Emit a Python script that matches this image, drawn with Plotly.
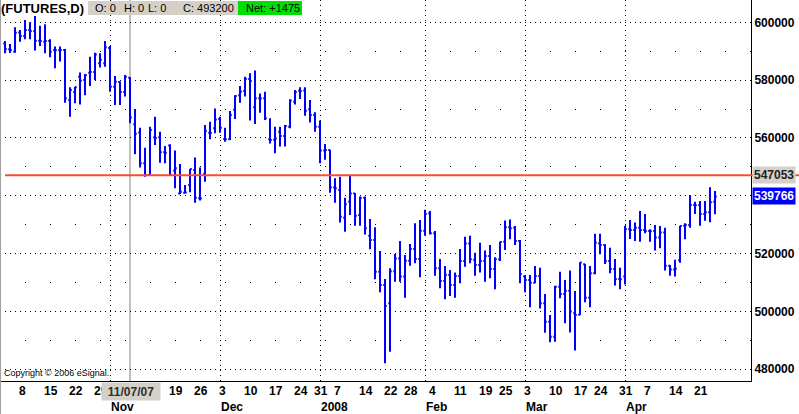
import plotly.graph_objects as go
import pandas as pd

# ---------------- data ----------------
holidays = ["2007-12-25", "2008-01-01", "2008-01-21", "2008-02-18", "2008-03-21"]
dates = [d for d in pd.bdate_range("2007-10-03", "2008-04-25")
         if d.strftime("%Y-%m-%d") not in holidays]

opens = [
    592700, 590700, 589800, 596500, 595300, 597300, 597000, 593600, 593300, 593500,
    590400, 590300, 590400, 573100, 575900, 581200, 580000, 582500, 582800, 585800,
    585800,
    591100, 577700, 579300, 575900, 580800, 564700, 561900, 551200, 547200, 560200,
    560200, 555000, 557400, 548700, 540800, 541000, 543700, 548900, 539100, 547500,
    561800, 563300,
    566500, 559600, 559500, 569700, 574800, 576200, 580400, 570600, 573700, 573700,
    559500, 559400, 562100, 560700, 563900, 572500, 576300, 576400, 569900, 567900,
    563900, 555600, 555800, 542800, 542000, 532400, 537900, 540800, 533300, 539300,
    526100, 524700, 513700, 509100, 502800, 513900, 518300, 512000, 517500, 521600,
    518100,
    527900, 533900, 527000, 514900, 510500, 512600, 509100, 512200, 517400, 523500,
    517800, 516000, 517400, 519100, 514600, 518000, 524100, 529100, 528900, 524300,
    512000, 510800, 509900, 512200, 502800, 496400, 491200, 508500, 506000, 507100,
    499300, 498800, 516300, 504700, 513200, 523500, 522900, 517400, 514600, 511200,
    512000, 528400, 528100, 528900, 528100, 527800, 527800, 525500, 527300, 515800,
    514500, 517700, 529600, 529900, 536800, 536800, 533700, 534300, 537900,
]
highs = [
    593500, 592500, 598300, 597300, 600800, 600000, 602200, 598800, 599300, 594100,
    591600, 591600, 590800, 577500, 577700, 582600, 582100, 588100, 589500, 589300,
    593500,
    591800, 581400, 579500, 581800, 581100, 570000, 563500, 556600, 563900, 567300,
    562100, 557200, 557800, 555600, 551000, 543700, 549200, 553200, 549800, 564500,
    565600, 570200,
    567300, 563500, 569300, 574800, 578000, 581200, 582400, 583300, 575400, 576000,
    566800, 563900, 563900, 564500, 573400, 576600, 577500, 577500, 573100, 568900,
    566000, 557900, 555900, 546000, 546600, 539300, 546800, 540900, 539700, 539700,
    531900, 529100, 520900, 511200, 514900, 519800, 524300, 519500, 523300, 530500,
    531600,
    535100, 534700, 527800, 518100, 515700, 514300, 513400, 521600, 525800, 526100,
    520300, 523700, 521000, 522900, 518700, 524100, 531400, 531800, 529500, 524700,
    512600, 512600, 515700, 515100, 506000, 498700, 508800, 513700, 510800, 514100,
    507000, 517000, 516400, 515700, 526800, 526800, 523200, 522000, 518100, 515100,
    529500, 531600, 530700, 534700, 533700, 528400, 529900, 529500, 528900, 516000,
    517800, 529600, 530500, 540200, 537900, 538200, 538200, 542900, 541600,
]
lows = [
    589300, 589400, 589500, 593300, 594100, 594100, 590200, 591800, 589300, 587900,
    584100, 586400, 572200, 567300, 572000, 571600, 574800, 578000, 580000, 584400,
    584600,
    576000, 571400, 571400, 574300, 565100, 554300, 549800, 546600, 546900, 557500,
    551400, 551200, 546900, 542600, 540600, 540800, 541200, 537600, 538300, 544800,
    559500, 561600,
    561800, 558700, 559300, 566500, 572200, 574300, 566000, 564800, 568700, 566200,
    558100, 554700, 557000, 557000, 563300, 571600, 573500, 567700, 565300, 562100,
    551200, 552400, 541000, 537600, 530700, 527500, 533300, 529600, 529600, 526600,
    521500, 511100, 506600, 482000, 486000, 510200, 510200, 504700, 515800, 516600,
    511800,
    526100, 526600, 512300, 508000, 504200, 505300, 504700, 509700, 515400, 516600,
    512300, 513400, 510200, 511400, 507600, 517400, 521200, 524900, 522900, 509700,
    506600, 501400, 509700, 501000, 492600, 489300, 489500, 504500, 495900, 492700,
    486400, 498700, 503100, 501400, 512800, 519700, 516400, 513200, 508900, 507600,
    509300, 525000, 524300, 524100, 527000, 524100, 521000, 521800, 514100, 512300,
    512000, 516800, 524900, 528900, 533700, 529600, 531300, 530800, 533600,
]
closes = [
    590800, 590400, 596400, 595300, 597300, 597000, 593600, 593500, 593500, 589800,
    590300, 590400, 573700, 576600, 577500, 579800, 581700, 582800, 588900, 587000,
    591400,
    577700, 579400, 575900, 581200, 567100, 561400, 551200, 547200, 562700, 560000,
    555000, 554900, 547200, 549500, 541400, 541100, 549200, 539300, 539000, 562400,
    561700, 566400,
    563500, 559500, 567900, 574500, 576000, 580400, 579700, 573700, 573600, 566800,
    559300, 559800, 560700, 564100, 572900, 575900, 576200, 569400, 567900, 563900,
    555600, 555800, 542900, 542600, 532700, 537000, 540800, 533100, 539300, 528700,
    524700, 513700, 509100, 501800, 513900, 518300, 512000, 517500, 521600, 518100,
    527900,
    533700, 527000, 514900, 510500, 512600, 509100, 512200, 517400, 523500, 518000,
    516000, 517400, 519100, 514600, 518000, 524000, 529100, 528700, 524300, 512900,
    510800, 509900, 512200, 502800, 496400, 491200, 508500, 506000, 507100, 499900,
    498700, 516900, 504700, 513200, 523700, 522900, 517400, 514600, 511200, 511100,
    528400, 528100, 528900, 528100, 527800, 527700, 525500, 527300, 515800, 514500,
    514700, 529500, 529900, 536800, 536700, 533700, 534300, 537700, 539766,
]

y_ticks = [480000, 500000, 520000, 540000, 560000, 580000, 600000]
y_ticktext = ["480000", "500000", "520000", "", "560000", "580000", "600000"]

day_labels = [
    ("2007-10-08", "8"), ("2007-10-15", "15"), ("2007-10-22", "22"), ("2007-10-29", "29"),
    ("2007-11-19", "19"), ("2007-11-26", "26"), ("2007-12-03", "3"), ("2007-12-10", "10"),
    ("2007-12-17", "17"), ("2007-12-24", "24"), ("2007-12-31", "31"), ("2008-01-07", "7"),
    ("2008-01-14", "14"), ("2008-01-22", "22"), ("2008-01-28", "28"), ("2008-02-04", "4"),
    ("2008-02-11", "11"), ("2008-02-19", "19"), ("2008-02-25", "25"), ("2008-03-03", "3"),
    ("2008-03-10", "10"), ("2008-03-17", "17"), ("2008-03-24", "24"), ("2008-03-31", "31"),
    ("2008-04-07", "7"), ("2008-04-14", "14"), ("2008-04-21", "21"),
]
month_labels = [
    ("2007-11-01", "Nov"), ("2007-12-03", "Dec"), ("2008-01-02", "2008"),
    ("2008-02-01", "Feb"), ("2008-03-03", "Mar"), ("2008-04-01", "Apr"),
]
cursor_date = "2007-11-07"
cursor_text = "11/07/07"
ref_level = 547053
last_level = 539766
header_title = "(FUTURES,D)"
header_fields = ["O: 0", "H: 0", "L: 0", "C: 493200"]
header_net = "Net: +1475"
copyright_text = "Copyright © 2006 eSignal."

# ---------------- figure ----------------
pos = {d.strftime("%Y-%m-%d"): i for i, d in enumerate(dates)}
xs = list(range(len(dates)))

W, H = 799, 414
PL, PR, PT, PB = 0, 48, 0, 33
pw, ph = W - PL - PR, H - PT - PB


def px(xp):
    return (xp - PL) / pw


def py(yp):
    return 1 - (yp - PT) / ph


BLUE = "#0000FF"
FONT = "Liberation Sans"

fig = go.Figure()
fig.add_trace(go.Ohlc(
    x=xs, open=opens, high=highs, low=lows, close=closes,
    increasing=dict(line=dict(color=BLUE, width=2)),
    decreasing=dict(line=dict(color=BLUE, width=2)),
    tickwidth=0.35, hoverinfo="skip", showlegend=False,
))

month_idx = [pos[d] for d, _ in month_labels]

fig.update_layout(
    template="none",
    width=W, height=H, autosize=False,
    margin=dict(l=PL, r=PR, t=PT, b=PB, pad=0),
    paper_bgcolor="white", plot_bgcolor="white",
    showlegend=False, hovermode=False,
    font=dict(family=FONT, size=12, color="black"),
    xaxis=dict(
        range=[-1, 149.2], rangeslider=dict(visible=False), automargin=False,
        tickmode="array", tickvals=month_idx, showticklabels=False, ticks="",
        showgrid=True, gridcolor="black", gridwidth=1, griddash="1px,4px",
        showline=True, linecolor="black", linewidth=1, zeroline=False,
        fixedrange=True,
    ),
    yaxis=dict(
        range=[475882, 607716], side="right", automargin=False,
        tickmode="array", tickvals=y_ticks, ticktext=y_ticktext, ticks="",
        tickfont=dict(family=FONT, size=12, color="black", weight="bold"),
        showgrid=True, gridcolor="black", gridwidth=1, griddash="1px,4px",
        minor=dict(dtick=10000, tick0=0, showgrid=True, gridcolor="black",
                   gridwidth=1, griddash="1px,24px", ticks=""),
        showline=True, linecolor="black", linewidth=1, zeroline=False,
        fixedrange=True,
    ),
)

shapes = []
# cursor line
ci = pos[cursor_date]
shapes.append(dict(type="line", xref="x", yref="paper", x0=ci, x1=ci, y0=0, y1=1,
                   line=dict(color="#ABABAB", width=1.5), layer="below"))
# left border
shapes.append(dict(type="line", xref="paper", yref="paper", x0=0.0007, x1=0.0007,
                   y0=py(H), y1=1, line=dict(color="#A0A0A0", width=1), layer="above"))
# reference level line
shapes.append(dict(type="line", xref="paper", yref="y", x0=px(5), x1=px(799),
                   y0=ref_level, y1=ref_level,
                   line=dict(color="#F4502E", width=2), layer="above"))
# header boxes
shapes.append(dict(type="rect", xref="paper", yref="paper", x0=px(88), x1=px(238),
                   y0=py(15), y1=py(1), fillcolor="#D4D0C8", line=dict(width=0), layer="above"))
shapes.append(dict(type="rect", xref="paper", yref="paper", x0=px(238), x1=px(302),
                   y0=py(15), y1=py(1), fillcolor="#00E000", line=dict(width=0), layer="above"))
fig.update_layout(shapes=shapes)

ann = []
for d, t in day_labels:
    ann.append(dict(x=pos[d], xref="x", y=py(391), yref="paper", text=t, showarrow=False,
                    xanchor="left", yanchor="middle", xshift=-3,
                    font=dict(family=FONT, size=12, color="black", weight="bold")))
for d, t in month_labels:
    ann.append(dict(x=pos[d], xref="x", y=py(407), yref="paper", text=t, showarrow=False,
                    xanchor="left", yanchor="middle", xshift=-1,
                    font=dict(family=FONT, size=12, color="black", weight="bold")))
ann.append(dict(x=px(130.5), xref="paper", y=py(391), yref="paper", text=cursor_text,
                showarrow=False, xanchor="center", yanchor="middle",
                width=56, height=15, borderpad=1, bgcolor="#D4D0C8",
                font=dict(family=FONT, size=12, color="#303030", weight="bold")))
# header
ann.append(dict(x=0, xref="paper", y=py(8), yref="paper", text=header_title, showarrow=False,
                xanchor="left", yanchor="middle", xshift=-1,
                font=dict(family=FONT, size=13, color="black", weight="bold")))
for xp, t in zip([93, 122, 146, 181], header_fields):
    ann.append(dict(x=px(xp), xref="paper", y=py(8), yref="paper", text=t, showarrow=False,
                    xanchor="left", yanchor="middle",
                    font=dict(family=FONT, size=11, color="black")))
ann.append(dict(x=px(244), xref="paper", y=py(8), yref="paper", text=header_net, showarrow=False,
                xanchor="left", yanchor="middle",
                font=dict(family=FONT, size=11, color="black")))
# copyright
ann.append(dict(x=px(2), xref="paper", y=py(373), yref="paper", text=copyright_text,
                showarrow=False, xanchor="left", yanchor="middle",
                font=dict(family=FONT, size=9, color="black")))
# right-side level labels
ann.append(dict(x=px(752), xref="paper", y=ref_level, yref="y", text=str(ref_level),
                showarrow=False, xanchor="left", yanchor="middle", bgcolor="#D4D0C8",
                borderpad=1, font=dict(family=FONT, size=12, color="#222222", weight="bold")))
ann.append(dict(x=px(752), xref="paper", y=last_level, yref="y", text=str(last_level),
                showarrow=False, xanchor="left", yanchor="middle", bgcolor="#0000FF",
                borderpad=1, font=dict(family=FONT, size=12, color="white", weight="bold")))
fig.update_layout(annotations=ann)

fig.write_html("out.html", config={"displayModeBar": False},
               post_script="document.body.style.margin='0';document.body.style.overflow='hidden';")
